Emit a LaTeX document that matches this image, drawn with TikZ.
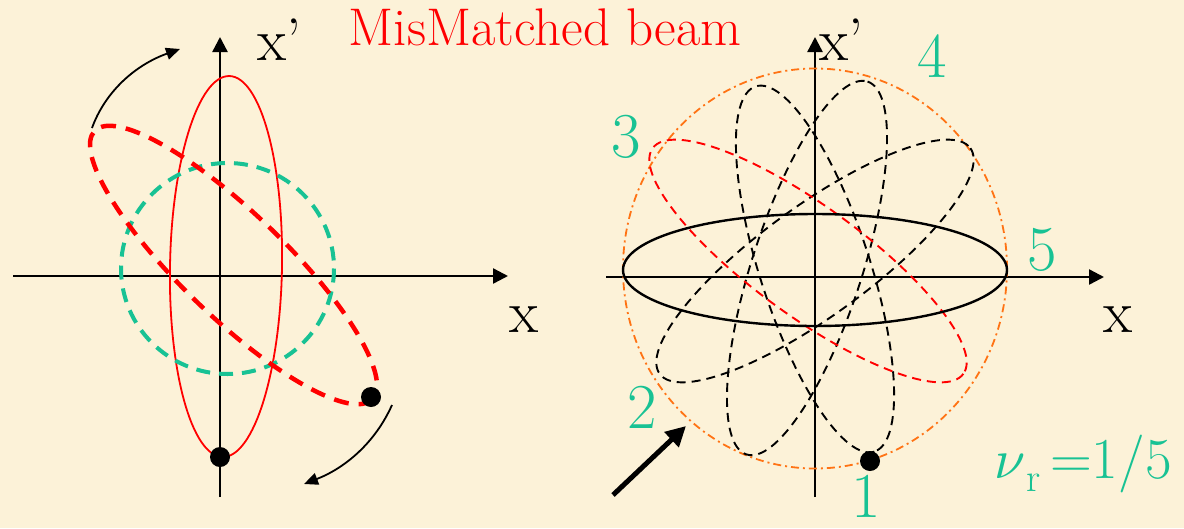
\documentclass[tikz,border=0pt]{standalone}
\usepackage{fontspec}
\usetikzlibrary{arrows.meta}
\definecolor{bg}{RGB}{252,242,216}
\definecolor{teal}{RGB}{24,194,148}
\definecolor{myred}{RGB}{255,0,0}
\definecolor{myorange}{RGB}{255,115,20}
\tikzset{
  axis/.style={line width=2.4pt,-{Triangle[length=15pt,width=15pt]}},
  curvarrow/.style={line width=1.8pt,-{Triangle[length=14pt,width=12pt]}},
  bigarrow/.style={line width=5pt,-{Triangle[length=20pt,width=20pt]}},
  tealtext/.style={text=teal,inner sep=0pt,font=\fontsize{64}{64}\selectfont},
  axlabel/.style={inner sep=0pt,font=\fontsize{60}{60}\selectfont},
  thindash/.style={line width=1.9pt,dash pattern=on 9pt off 6pt},
  dotnode/.style={circle,fill=black,inner sep=0pt,minimum size=20pt}
}
\begin{document}
\begin{tikzpicture}[x=1pt,y=-1pt]
\useasboundingbox[fill=bg] (0,0) rectangle (1184,528);
% ---------------- left diagram ----------------
\coordinate (lxs) at (13,276);
\coordinate (lxe) at (508,276);
\coordinate (lys) at (220,497);
\coordinate (lye) at (220,37);
\draw[axis] (lxs) -- (lxe);
\draw[axis] (lys) -- (lye);
\node[axlabel,anchor=base west] (lxp) at (257,60) {x’};
\node[axlabel,anchor=base] (lx) at (524,332) {x};
\node[text=myred,inner sep=0pt,anchor=base,font=\fontsize{53}{53}\selectfont] (title) at (545,45) {MisMatched beam};
% solid red matched ellipse
\draw[myred,line width=1.8pt,shift={(226,266.5)},rotate=-1] (0,0) ellipse [x radius=56,y radius=190.5];
% teal dashed circle
\draw[teal,line width=4pt,dash pattern=on 14pt off 9pt,shift={(227.5,268.5)}] (0,0) ellipse [x radius=106.5,y radius=105.5];
% red thick dashed mismatched ellipse
\draw[myred,line width=4.5pt,dash pattern=on 15pt off 10pt,shift={(233.5,265)},rotate=-44] (0,0) ellipse [x radius=193,y radius=52];
\node[dotnode] (ld1) at (220,457) {};
\node[dotnode] (ld2) at (371,397) {};
\coordinate (ua1) at (92,128);
\coordinate (ua2) at (180,49);
\draw[curvarrow] (ua1) .. controls (105,92) and (135,65) .. (ua2);
\coordinate (la1) at (392,405);
\coordinate (la2) at (304,484);
\draw[curvarrow] (la1) .. controls (375,443) and (345,468) .. (la2);
% ---------------- right diagram ----------------
\coordinate (rxs) at (606,277);
\coordinate (rxe) at (1104,277);
\coordinate (rys) at (815,497);
\coordinate (rye) at (815,37);
\draw[axis] (rxs) -- (rxe);
\draw[axis] (rys) -- (rye);
\node[axlabel,anchor=base west] (rxp) at (819,60) {x’};
\node[axlabel,anchor=base] (rx) at (1118,332) {x};
% orange dash-dot envelope
\draw[myorange,line width=1.8pt,dash pattern=on 8pt off 4pt on 2pt off 4pt,shift={(815,268.5)}] (0,0) ellipse [x radius=192,y radius=200];
% rotated ellipses
\draw[thindash,black,shift={(815,269)},rotate=-72] (0,0) ellipse [x radius=192,y radius=55];
\draw[thindash,black,shift={(807,268)},rotate=72] (0,0) ellipse [x radius=196,y radius=55];
\draw[thindash,black,shift={(815,261)},rotate=36] (0,0) ellipse [x radius=192,y radius=55];
\draw[thindash,myred,shift={(808,261)},rotate=-36] (0,0) ellipse [x radius=192,y radius=55];
\draw[black,line width=2.4pt,shift={(815,270)}] (0,0) ellipse [x radius=192,y radius=56];
\node[dotnode] (rd) at (870,461) {};
\coordinate (ba1) at (613,495);
\coordinate (ba2) at (686,426);
\draw[bigarrow] (ba1) -- (ba2);
% labels
\node[tealtext,anchor=base] (n1) at (866,517) {1};
\node[tealtext,anchor=base] (n2) at (642,428) {2};
\node[tealtext,anchor=base] (n3) at (626,157) {3};
\node[tealtext,anchor=base] (n4) at (932,77) {4};
\node[tealtext,anchor=base] (n5) at (1042,270) {5};
\node[tealtext,anchor=base east,font=\fontsize{58}{58}\selectfont] (nu) at (1172,478) {\scalebox{5.6}{\fontsize{10}{12}\selectfont$\nu$}\raisebox{-13pt}{\fontsize{40}{40}\selectfont r}\hspace{10pt}=1/5};
\end{tikzpicture}
\end{document}
